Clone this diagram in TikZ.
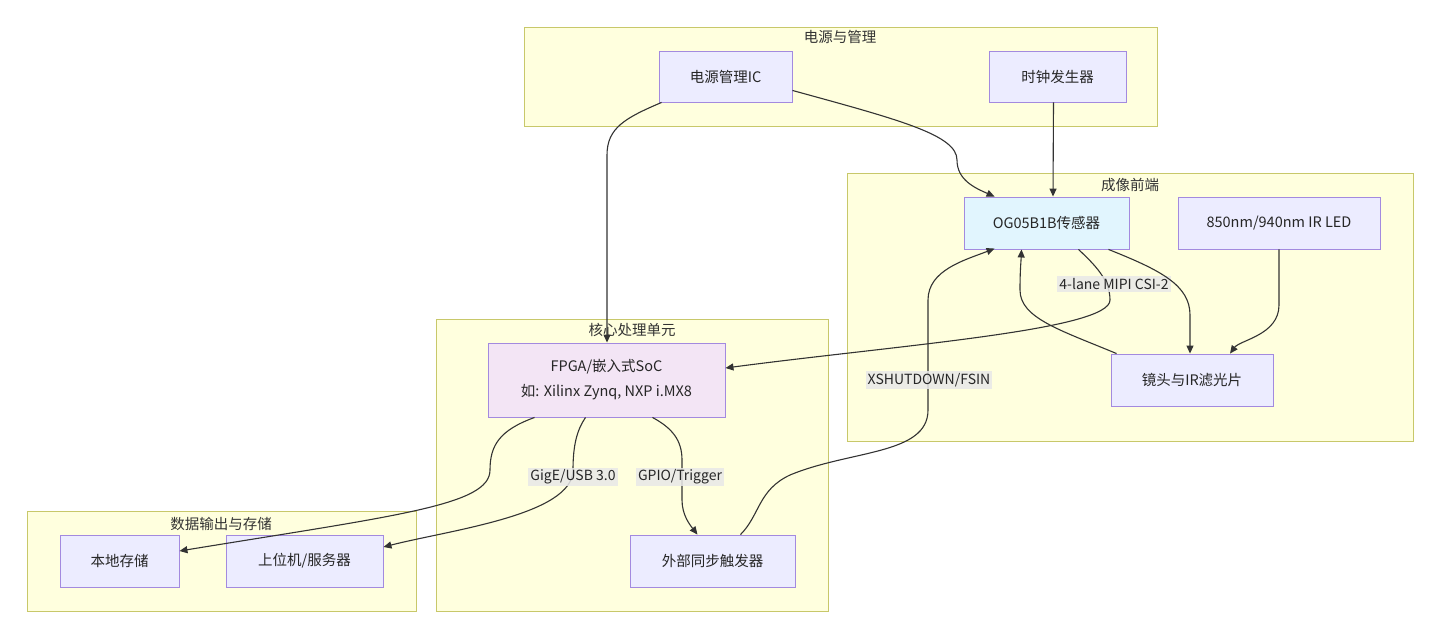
\documentclass[tikz,border=0pt]{standalone}
\usepackage{fontspec}
\setmainfont{Noto Sans CJK SC}
\usetikzlibrary{arrows.meta,calc}
\definecolor{clfill}{HTML}{FFFFDE}
\definecolor{cldraw}{HTML}{C8C86A}
\definecolor{nfill}{HTML}{ECECFF}
\definecolor{ndraw}{HTML}{A38ADF}
\definecolor{bluefill}{HTML}{E1F5FE}
\definecolor{purfill}{HTML}{F3E5F5}
\definecolor{lbl}{HTML}{E8E8E8}
\definecolor{ln}{HTML}{333333}
\begin{document}
\begin{tikzpicture}[x=1pt,y=-1pt,
  cluster/.style={draw=cldraw,fill=clfill,line width=0.9pt},
  ctitle/.style={font=\fontsize{14.5}{17}\selectfont,text=black!80,inner sep=0pt},
  box/.style={draw=ndraw,fill=nfill,line width=0.9pt,font=\fontsize{14.5}{17}\selectfont,text=black!85,align=center,inner sep=0pt},
  arr/.style={draw=ln,line width=1.1pt,-{Triangle[length=8pt,width=7pt]}},
  elabel/.style={fill=lbl,fill opacity=0.85,text opacity=1,font=\fontsize{14}{16}\selectfont,text=black!85,inner sep=2pt}]
\useasboundingbox (0,0) rectangle (1440,638);
% clusters
\path[cluster] (524,27) rectangle (1157,126);
\node[ctitle] (t1) at (840,37) {电源与管理};
\path[cluster] (847,173) rectangle (1413,441);
\node[ctitle] (t2) at (1130,185) {成像前端};
\path[cluster] (436,319) rectangle (828,611);
\node[ctitle] (t3) at (632,330) {核心处理单元};
\path[cluster] (27,511) rectangle (416,611);
\node[ctitle] (t4) at (221,524) {数据输出与存储};
% nodes
\node[box,minimum width=133,minimum height=51] (pm) at (725.5,76.5) {电源管理IC};
\node[box,minimum width=137,minimum height=51] (clk) at (1057.5,76.5) {时钟发生器};
\node[box,fill=bluefill,minimum width=165,minimum height=52] (og) at (1046.5,223) {OG05B1B传感器};
\node[box,minimum width=202,minimum height=52] (led) at (1279,223) {850nm/940nm IR LED};
\node[box,minimum width=162,minimum height=52] (lens) at (1192,380) {镜头与IR滤光片};
\node[box,fill=purfill,minimum width=237,minimum height=74,font=\fontsize{14.5}{25}\selectfont] (fpga) at (606.5,380) {FPGA/嵌入式SoC\\如: Xilinx Zynq, NXP i.MX8};
\node[box,minimum width=165,minimum height=52] (trig) at (712.5,561) {外部同步触发器};
\node[box,minimum width=119,minimum height=52] (loc) at (119.5,561) {本地存储};
\node[box,minimum width=157,minimum height=52] (host) at (304.5,561) {上位机/服务器};
% edges
\draw[arr] ($(pm.south west)+(3,0)$) .. controls (625,118) and (607,128) .. (607,155) -- (fpga.north -| 607,0);
\draw[arr] ($(pm.south east)+(0,-12)$) .. controls (900,120) and (957,135) .. (957,160) .. controls (957,180) and (975,188) .. ($(og.north west)+(31,0)$);
\draw[arr] ($(clk.south)+(-4,0)$) -- ($(og.north)+(6.5,0)$);
\draw[arr] ($(og.south)+(32,0)$) .. controls (1095,265) and (1110,280) .. (1110,300) .. controls (1110,330) and (900,345) .. ($(fpga.east)+(0,-12)$);
\node[elabel] (l1) at (1114,284) {4-lane MIPI CSI-2};
\draw[arr] ($(og.south)+(62,0)$) .. controls (1160,270) and (1190,285) .. (1190,315) -- ($(lens.north)+(-2,0)$);
\draw[arr] (led.south) -- (1279,305) .. controls (1279,335) and (1240,340) .. ($(lens.north)+(38,0)$);
\draw[arr] ($(lens.north west)+(6,0)$) .. controls (1060,330) and (1020,318) .. (1020,290) .. controls (1020,270) and (1021,262) .. ($(og.south)+(-25,0)$);
\draw[arr] ($(fpga.south west)+(47,0)$) .. controls (500,430) and (490,445) .. (490,470) .. controls (490,505) and (400,515) .. ($(loc.east)+(0,-10)$);
\draw[arr] ($(fpga.south)+(-21,0)$) .. controls (577,430) and (573,445) .. (573,470) .. controls (573,515) and (450,530) .. ($(host.east)+(0,-14)$);
\node[elabel] (l2) at (573,477) {GigE/USB 3.0};
\draw[arr] ($(fpga.south)+(46,0)$) .. controls (672,428) and (682,440) .. (682,460) -- (682,500) .. controls (682,515) and (690,525) .. ($(trig.north)+(-15,0)$);
\node[elabel] (l3) at (680,477) {GPIO/Trigger};
\draw[arr] ($(trig.north)+(28,0)$) .. controls (760,515) and (758,490) .. (790,475) .. controls (850,450) and (928,455) .. (928,410) -- (928,300) .. controls (928,270) and (965,260) .. ($(og.north west)+(31,52)$);
\node[elabel] (l4) at (929,380) {XSHUTDOWN/FSIN};
\end{tikzpicture}
\end{document}
